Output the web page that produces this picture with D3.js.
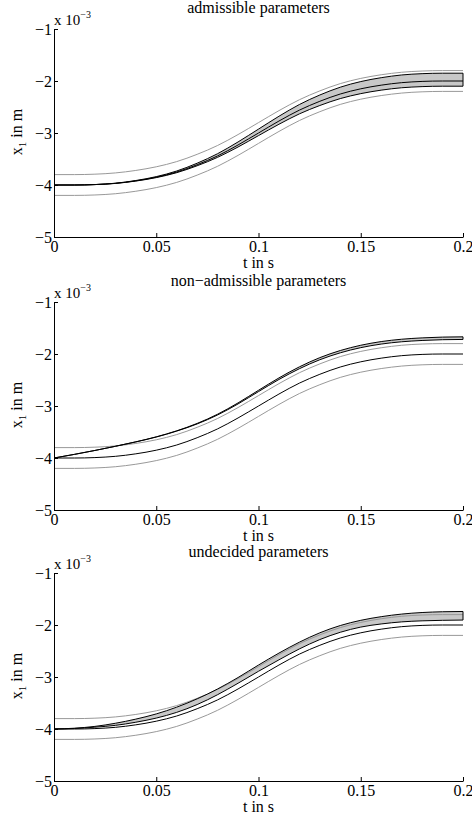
<!DOCTYPE html>
<html>
<head>
<meta charset="utf-8">
<script src="https://d3js.org/d3.v7.min.js"></script>
<style>
  body { margin: 0; background: white; }
  svg { font-family: 'Liberation Serif', 'Times New Roman', serif; }
  .axis path, .axis line { stroke: black; }
  .axis text { font-family: 'Liberation Serif', 'Times New Roman', serif; font-size: 16px; fill: black; }
</style>
</head>
<body>
<svg id="chart" width="472" height="816"></svg>
<script>
// time samples in s, positions in 1e-3 m
const tValues = [0, 0.01, 0.02, 0.03, 0.04, 0.05, 0.06, 0.07, 0.08, 0.09, 0.1,
                 0.11, 0.12, 0.13, 0.14, 0.15, 0.16, 0.17, 0.18, 0.19, 0.2];

const xTicks = [0, 0.05, 0.1, 0.15, 0.2];
const xTickLabels = ["0", "0.05", "0.1", "0.15", "0.2"];
const yTicks = [-1, -2, -3, -4, -5];
const yTickLabels = ["\u22121", "\u22122", "\u22123", "\u22124", "\u22125"];

const titles = ["admissible parameters", "non\u2212admissible parameters", "undecided parameters"];

// reference trajectory (black) and tolerance bounds (gray)
const refCurve = [-4, -4, -3.992, -3.968, -3.92, -3.85, -3.75, -3.61, -3.44, -3.23, -3.0,
                  -2.77, -2.56, -2.39, -2.25, -2.15, -2.08, -2.032, -2.008, -2.0, -2.0];
const upperBound = [-3.8, -3.8, -3.792, -3.768, -3.72, -3.65, -3.55, -3.41, -3.24, -3.03, -2.8,
                    -2.57, -2.36, -2.19, -2.05, -1.95, -1.88, -1.832, -1.808, -1.8, -1.8];
const lowerBound = [-4.2, -4.2, -4.192, -4.168, -4.12, -4.05, -3.95, -3.81, -3.64, -3.43, -3.2,
                    -2.97, -2.76, -2.59, -2.45, -2.35, -2.28, -2.232, -2.208, -2.2, -2.2];

// enclosure of the simulated outputs for each parameter set
const admissibleUpper = [-4, -4, -3.991, -3.966, -3.914, -3.839, -3.731, -3.581, -3.398, -3.172, -2.925,
                         -2.678, -2.452, -2.269, -2.119, -2.011, -1.936, -1.884, -1.859, -1.85, -1.85];
const admissibleLower = [-4, -4, -3.992, -3.97, -3.924, -3.858, -3.763, -3.63, -3.468, -3.269, -3.05,
                         -2.832, -2.632, -2.471, -2.338, -2.243, -2.176, -2.13, -2.108, -2.1, -2.1];
const nonAdmUpper = [-4, -3.93, -3.855, -3.775, -3.689, -3.593, -3.477, -3.335, -3.158, -2.94, -2.698,
                     -2.46, -2.247, -2.07, -1.933, -1.832, -1.761, -1.716, -1.69, -1.675, -1.67];
const nonAdmLower = [-4, -3.93, -3.855, -3.775, -3.691, -3.597, -3.483, -3.345, -3.172, -2.96, -2.723,
                     -2.49, -2.283, -2.11, -1.977, -1.878, -1.809, -1.765, -1.74, -1.725, -1.72];
const undecidedUpper = [-4, -3.985, -3.95, -3.89, -3.81, -3.71, -3.58, -3.42, -3.23, -3.01, -2.77,
                        -2.54, -2.33, -2.15, -2.01, -1.91, -1.84, -1.79, -1.76, -1.745, -1.74];
const undecidedLower = [-4, -3.99, -3.965, -3.93, -3.87, -3.79, -3.68, -3.53, -3.34, -3.12, -2.89,
                        -2.67, -2.46, -2.28, -2.14, -2.04, -1.98, -1.94, -1.92, -1.91, -1.905];

const bandUpper = [admissibleUpper, nonAdmUpper, undecidedUpper];
const bandLower = [admissibleLower, nonAdmLower, undecidedLower];

const panelTops = [29, 302, 573];
const left = 54, right = 463, plotH = 208;

const svg = d3.select("#chart");
const x = d3.scaleLinear().domain([0, 0.2]).range([left, right]);

titles.forEach(function (title, p) {
  const top = panelTops[p];
  const y = d3.scaleLinear().domain([-5, -1]).range([top + plotH, top]);
  const g = svg.append("g");

  const line = d3.line()
    .x(function (d, i) { return x(tValues[i]); })
    .y(function (d) { return y(d); })
    .curve(d3.curveMonotoneX);

  const area = d3.area()
    .x(function (d, i) { return x(tValues[i]); })
    .y0(function (d, i) { return y(bandLower[p][i]); })
    .y1(function (d) { return y(d); })
    .curve(d3.curveMonotoneX);

  // band fill
  g.append("path")
    .datum(bandUpper[p])
    .attr("d", area)
    .attr("fill", "#c8c8c8")
    .attr("stroke", "none");

  // tolerance bounds
  [upperBound, lowerBound].forEach(function (b) {
    g.append("path").datum(b).attr("d", line)
      .attr("fill", "none").attr("stroke", "#999").attr("stroke-width", 1);
  });

  // band outline and reference
  g.append("path")
    .datum(bandUpper[p])
    .attr("d", area)
    .attr("fill", "none")
    .attr("stroke", "black")
    .attr("stroke-width", 1);
  g.append("path").datum(refCurve).attr("d", line)
    .attr("fill", "none").attr("stroke", "black").attr("stroke-width", 1);

  // axes
  g.append("g")
    .attr("class", "axis")
    .attr("transform", "translate(0," + (top + plotH) + ")")
    .call(d3.axisBottom(x).tickValues(xTicks)
      .tickFormat(function (d, i) { return xTickLabels[i]; })
      .tickSizeInner(-4).tickSizeOuter(0).tickPadding(4))
    .attr("font-family", null)
    .call(function (a) { a.selectAll("text").attr("dy", "0.71em"); });

  g.append("g")
    .attr("class", "axis")
    .attr("transform", "translate(" + left + ",0)")
    .call(d3.axisLeft(y).tickValues(yTicks)
      .tickFormat(function (d, i) { return yTickLabels[i]; })
      .tickSizeInner(-4).tickSizeOuter(0).tickPadding(2))
    .attr("font-family", null);

  // exponent label
  const ex = g.append("text")
    .attr("x", left)
    .attr("y", top - 4)
    .attr("font-size", 15);
  ex.append("tspan").text("x 10");
  ex.append("tspan").attr("font-size", 10).attr("dy", -7).text("\u22123");

  // title
  g.append("text")
    .attr("x", (left + right) / 2)
    .attr("y", top - 16)
    .attr("text-anchor", "middle")
    .attr("font-size", 16)
    .text(title);

  // x label
  g.append("text")
    .attr("x", (left + right) / 2)
    .attr("y", top + plotH + 31)
    .attr("text-anchor", "middle")
    .attr("font-size", 16)
    .text("t in s");

  // y label
  const yl = g.append("text")
    .attr("transform", "translate(22," + (top + 103) + ") rotate(-90)")
    .attr("text-anchor", "middle")
    .attr("font-size", 16);
  yl.append("tspan").text("x");
  yl.append("tspan").attr("font-size", 11).attr("dy", 4).text("1");
  yl.append("tspan").attr("dy", -4).text(" in m");
});
</script>
</body>
</html>
